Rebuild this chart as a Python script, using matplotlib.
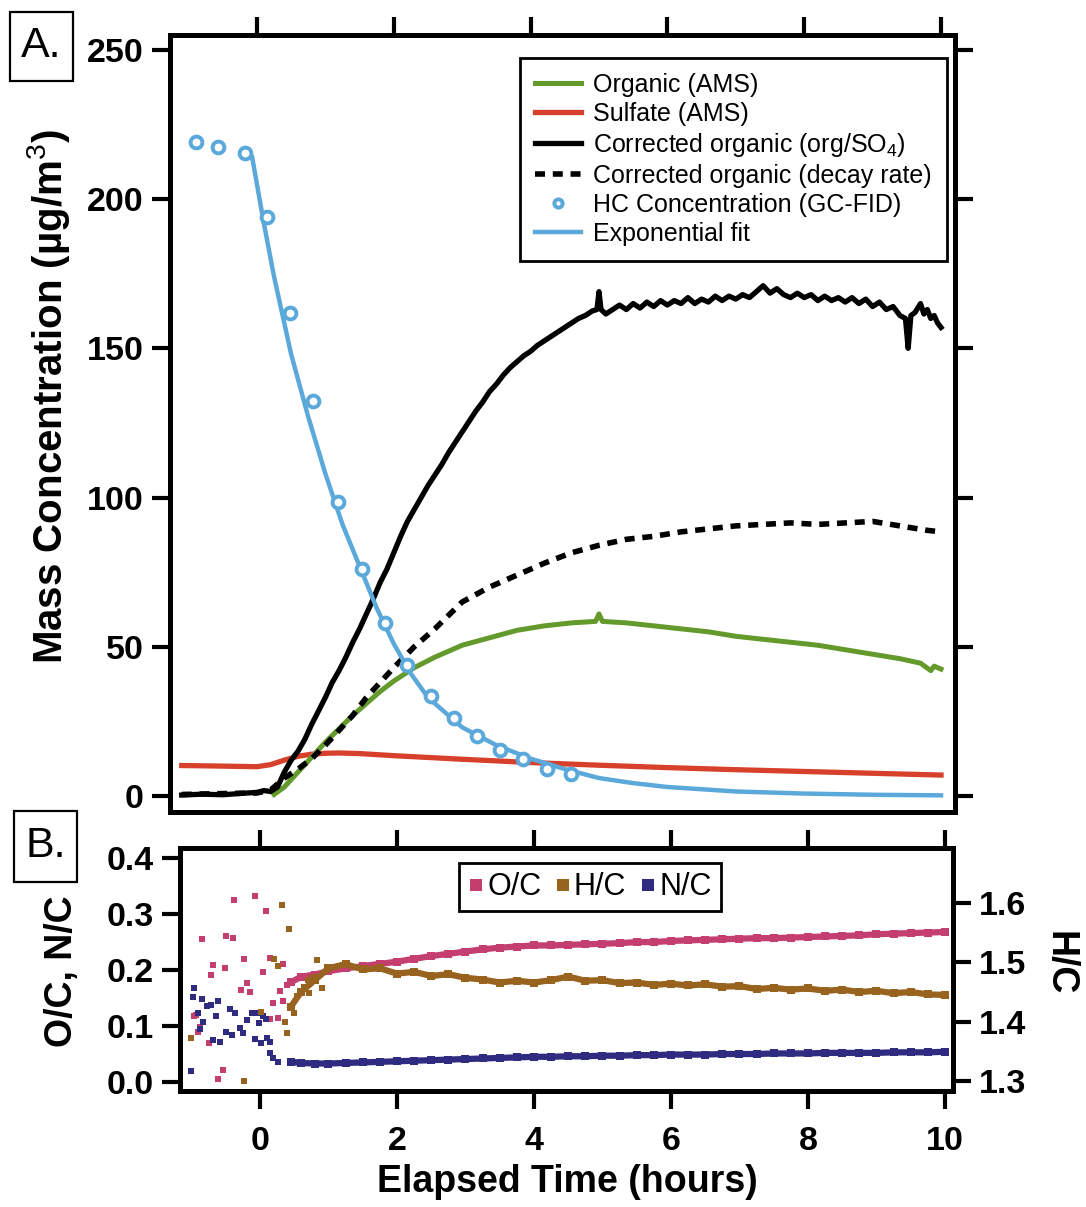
import matplotlib
matplotlib.use('Agg')
import matplotlib.pyplot as plt
from matplotlib.lines import Line2D
from matplotlib.patches import Rectangle

plt.rcParams['font.family'] = ['Liberation Sans', 'DejaVu Sans']
plt.rcParams['mathtext.fontset'] = 'custom'
plt.rcParams['mathtext.rm'] = 'Liberation Sans'
plt.rcParams['mathtext.it'] = 'Liberation Sans:italic'
plt.rcParams['mathtext.bf'] = 'Liberation Sans:bold'

# ---------------- Panel A data ----------------
t_corr = [-1.1, -0.8, -0.5, -0.2, 0.0, 0.1, 0.2, 0.3, 0.4, 0.5, 0.6, 0.7, 0.8, 0.9,
          1.0, 1.1, 1.2, 1.3, 1.4, 1.5, 1.6, 1.7, 1.8, 1.9, 2.0, 2.1, 2.2, 2.3, 2.4,
          2.5, 2.6, 2.7, 2.8, 2.9, 3.0, 3.1, 3.2, 3.3, 3.4, 3.5, 3.6, 3.7, 3.8, 3.9,
          4.0, 4.1, 4.2, 4.3, 4.4, 4.5, 4.6, 4.7, 4.8, 4.9, 4.97, 5.0, 5.03, 5.1, 5.2,
          5.3, 5.4, 5.5, 5.6, 5.7, 5.8, 5.9, 6.0, 6.1, 6.2, 6.3, 6.4, 6.5, 6.6, 6.7,
          6.8, 6.9, 7.0, 7.1, 7.2, 7.3, 7.4, 7.5, 7.6, 7.7, 7.8, 7.9, 8.0, 8.1, 8.2,
          8.3, 8.4, 8.5, 8.6, 8.7, 8.8, 8.9, 9.0, 9.1, 9.2, 9.3, 9.4, 9.48, 9.52, 9.56,
          9.62, 9.7, 9.75, 9.8, 9.85, 9.9, 9.95, 10.0]
corr_org = [0.3, 0.6, 0.4, 0.9, 1.2, 1.8, 1.5, 3, 8, 12, 15, 19, 24, 28.5,
            33, 38, 42, 46.5, 51.5, 56, 61, 66, 71.5, 76, 81.5, 87, 92, 96, 100,
            104, 107.5, 111, 115, 118.5, 122, 125.5, 129, 132, 135.5, 138, 141, 143.5, 145.5, 147.5,
            149, 151, 152.5, 154, 155.5, 157, 158.5, 160, 161, 162.5, 163, 169, 163, 161.5, 163,
            164.5, 163, 165, 163.5, 165.5, 164, 166, 164.5, 166, 165, 167, 165, 166.5, 165.5, 167.5,
            166, 167.5, 166.5, 168, 167, 169, 171, 168.5, 170, 168, 167, 168.5, 167, 168, 166,
            167.5, 166, 167, 165.5, 167, 165, 166.5, 164, 165.5, 163, 164, 161, 160, 150, 161,
            162, 165, 161.5, 163, 160, 161, 158.5, 157]

t_decay = [-1.1, -0.5, 0.0, 0.2, 0.4, 0.6, 0.8, 1.0, 1.2, 1.4, 1.6, 1.8, 2.0, 2.3, 2.6,
           3.0, 3.4, 3.8, 4.2, 4.6, 5.0, 5.4, 5.8, 6.2, 6.6, 7.0, 7.4, 7.8, 8.2, 8.6,
           9.0, 9.4, 9.8, 10.0]
corr_decay = [0.5, 0.8, 1, 2, 6, 9, 12.5, 17, 22, 27, 33, 38, 43, 50, 56,
              65, 70, 74, 78, 81.5, 84, 86, 87, 88.5, 89.5, 90.5, 91, 91.5, 91, 91.5,
              92, 90.5, 89, 88.5]

t_org = [0.25, 0.4, 0.6, 0.8, 1.0, 1.2, 1.4, 1.6, 1.8, 2.0, 2.3, 2.6, 3.0, 3.4, 3.8,
         4.2, 4.6, 4.95, 5.0, 5.05, 5.4, 5.8, 6.2, 6.6, 7.0, 7.4, 7.8, 8.2, 8.6, 9.0,
         9.4, 9.7, 9.85, 9.9, 10.0]
organic = [0.5, 3, 8, 13, 18, 22.5, 27, 31, 35, 38.5, 43, 46.5, 50.5, 53, 55.5,
           57, 58, 58.5, 61, 58.5, 58, 57, 56, 55, 53.5, 52.5, 51.5, 50.5, 49, 47.5,
           46, 44.5, 42, 43.5, 42.5]

t_sulf = [-1.1, -0.5, 0.0, 0.2, 0.4, 0.6, 0.8, 1.0, 1.2, 1.5, 2, 3, 4, 5, 6, 7, 8, 9, 10]
sulfate = [10.2, 10, 9.8, 10.5, 12, 13.3, 14, 14.3, 14.4, 14.2, 13.5, 12.3, 11.2,
           10.3, 9.5, 8.8, 8.2, 7.6, 7.0]

t_hc = [-0.89, -0.57, -0.18, 0.15, 0.48, 0.82, 1.18, 1.53, 1.87, 2.20, 2.54, 2.88,
        3.22, 3.55, 3.89, 4.24, 4.59]
hc_conc = [219, 217.5, 215.5, 194, 162, 132.5, 98.5, 76, 58, 44, 33.5, 26, 20, 15.5,
           12.4, 9.2, 7.4]

t_fit = [-0.07, 0.1, 0.25, 0.5, 0.75, 1.0, 1.25, 1.5, 1.75, 2.0, 2.25, 2.5, 3.0, 3.5,
         4.0, 4.5, 5.0, 5.5, 6.0, 7.0, 8.0, 9.0, 10.0]
hc_fit = [214, 192, 174, 148, 127, 108, 91, 77, 63, 51, 41, 33, 23, 17, 12.5, 9, 6,
          4.3, 3, 1.5, 0.8, 0.4, 0.2]

# ---------------- Panel B data ----------------
oc_t = [-0.97, -0.93, -0.90, -0.88, -0.85, -0.74, -0.71, -0.68, -0.61, -0.54, -0.51,
        -0.50, -0.40, -0.38, -0.27, -0.24, -0.19, -0.15, -0.07, 0.05, 0.09, 0.14,
        0.15, 0.19, 0.26, 0.29, 0.33, 0.34, 0.39]
oc_v = [0.118, 0.120, 0.090, 0.098, 0.255, 0.069, 0.192, 0.209, 0.005, 0.021, 0.203,
        0.261, 0.258, 0.325, 0.164, 0.219, 0.176, 0.161, 0.333, 0.196, 0.305, 0.113,
        0.221, 0.142, 0.114, 0.163, 0.145, 0.211, 0.173]

hc_t = [-1.01, -0.23, 0.02, 0.21, 0.26, 0.32, 0.36, 0.39, 0.42, 0.50, 0.54, 0.64,
        0.70, 0.72, 0.78, 0.83, 0.90]
hc_v = [1.373, 1.300, 1.416, 1.505, 1.494, 1.597, 1.400, 1.381, 1.556, 1.415, 1.443,
        1.459, 1.470, 1.448, 1.475, 1.504, 1.456]

nc_t = [-1.00, -0.98, -0.96, -0.90, -0.88, -0.85, -0.83, -0.78, -0.71, -0.68, -0.64,
        -0.61, -0.58, -0.49, -0.44, -0.41, -0.36, -0.29, -0.25, -0.19, -0.12, -0.07,
        -0.05, -0.02, 0.02, 0.05, 0.09, 0.11, 0.14, 0.15, 0.19, 0.27]
nc_v = [0.020, 0.152, 0.168, 0.123, 0.094, 0.148, 0.108, 0.135, 0.138, 0.075, 0.118,
        0.145, 0.072, 0.090, 0.131, 0.084, 0.123, 0.096, 0.087, 0.110, 0.123, 0.077,
        0.123, 0.106, 0.069, 0.118, 0.113, 0.078, 0.072, 0.051, 0.043, 0.035]

tb = [0.45, 0.6, 0.8, 1.0, 1.25, 1.5, 1.75, 2.0, 2.25, 2.5, 2.75, 3.0, 3.25, 3.5,
      3.75, 4.0, 4.25, 4.5, 4.75, 5.0, 5.25, 5.5, 5.75, 6.0, 6.25, 6.5, 6.75, 7.0,
      7.25, 7.5, 7.75, 8.0, 8.25, 8.5, 8.75, 9.0, 9.25, 9.5, 9.75, 10.0]
oc_band = [0.178, 0.188, 0.192, 0.198, 0.203, 0.207, 0.211, 0.215, 0.220, 0.225,
           0.229, 0.233, 0.237, 0.240, 0.242, 0.244, 0.244, 0.245, 0.246, 0.247,
           0.248, 0.250, 0.250, 0.252, 0.253, 0.254, 0.255, 0.256, 0.257, 0.257,
           0.258, 0.259, 0.260, 0.261, 0.262, 0.264, 0.265, 0.266, 0.267, 0.268]
hc_band = [1.425, 1.450, 1.470, 1.490, 1.497, 1.488, 1.490, 1.481, 1.484, 1.477,
           1.480, 1.474, 1.471, 1.466, 1.469, 1.466, 1.470, 1.476, 1.469, 1.470,
           1.465, 1.466, 1.462, 1.464, 1.461, 1.463, 1.459, 1.460, 1.455, 1.457,
           1.454, 1.456, 1.452, 1.454, 1.450, 1.452, 1.448, 1.450, 1.446, 1.445]
nc_band = [0.036, 0.034, 0.033, 0.033, 0.034, 0.035, 0.036, 0.037, 0.038, 0.039,
           0.040, 0.041, 0.042, 0.043, 0.044, 0.045, 0.045, 0.046, 0.046, 0.047,
           0.047, 0.048, 0.048, 0.049, 0.049, 0.049, 0.050, 0.050, 0.050, 0.051,
           0.051, 0.051, 0.052, 0.052, 0.052, 0.052, 0.053, 0.053, 0.053, 0.054]

x_ticks = [0, 2, 4, 6, 8, 10]
a_yticks = [0, 50, 100, 150, 200, 250]
b_yticks = [0.0, 0.1, 0.2, 0.3, 0.4]
b_yticklabels = ['0.0', '0.1', '0.2', '0.3', '0.4']
hc_ticks = [1.3, 1.4, 1.5, 1.6]
hc_ticklabels = ['1.3', '1.4', '1.5', '1.6']

# colours
C_GREEN = '#64992c'
C_RED = '#d7412c'
C_BLUE = '#5ba8da'
C_PINK = '#c43f70'
C_BROWN = '#98621f'
C_NAVY = '#2e2b80'

SPINE_W = 3.6
TICK_W = 3.0
TICK_L = 13
TICK_FS = 24.5
LAB_FS = 27

fig = plt.figure(figsize=(10.86, 12.07), dpi=100)
axA = fig.add_axes([0.1565, 0.3273, 0.7229, 0.6437])
axB = fig.add_axes([0.1657, 0.0961, 0.7118, 0.2013])

# ---------------- Panel A ----------------
axA.plot(t_sulf, sulfate, color=C_RED, lw=3.8, label='Sulfate (AMS)', zorder=2)
axA.plot(t_org, organic, color=C_GREEN, lw=3.6, label='Organic (AMS)', zorder=3)
axA.plot(t_decay, corr_decay, color='black', lw=4.0, linestyle=(0, (1.8, 1.4)),
         label='Corrected organic (decay rate)', zorder=4)
axA.plot(t_corr, corr_org, color='black', lw=3.8,
         label='Corrected organic (org/SO$_4$)', zorder=4)
axA.plot(t_fit, hc_fit, color=C_BLUE, lw=3.2, label='Exponential fit', zorder=5)
axA.plot(t_hc, hc_conc, linestyle='none', marker='o', ms=8.5, mew=2.8, mfc='white',
         mec=C_BLUE, label='HC Concentration (GC-FID)', zorder=6)

axA.set_xlim(-1.272, 10.205)
axA.set_ylim(-5.36, 255.0)
axA.set_xticks(x_ticks)
axA.set_yticks(a_yticks)
axA.tick_params(axis='both', which='both', direction='out', length=TICK_L, width=TICK_W,
                left=True, right=True, top=True, bottom=False,
                labelleft=True, labelright=False, labeltop=False, labelbottom=False,
                labelsize=TICK_FS, pad=6)
for lab in axA.get_yticklabels():
    lab.set_fontweight('bold')
for sp in axA.spines.values():
    sp.set_linewidth(SPINE_W)
axA.set_ylabel('Mass Concentration (µg/m$^3$)', fontsize=29, fontweight='bold')
axA.yaxis.set_label_coords(-0.125, 0.535)

h = {l.get_label(): l for l in axA.get_lines()}
order = ['Organic (AMS)', 'Sulfate (AMS)', 'Corrected organic (org/SO$_4$)',
         'Corrected organic (decay rate)', 'HC Concentration (GC-FID)', 'Exponential fit']
legA = axA.legend([h[k] for k in order], order, loc='upper right',
                  bbox_to_anchor=(0.9898, 0.9704), borderaxespad=0, fontsize=18,
                  frameon=True, fancybox=False, framealpha=1, edgecolor='black',
                  handlelength=1.85, handletextpad=0.5, labelspacing=0.2, borderpad=0.6,
                  markerscale=0.7)
legA.get_frame().set_linewidth(2.0)

# ---------------- Panel B ----------------
axB2 = axB.twinx()
axB.plot(tb, oc_band, color=C_PINK, lw=4.5, marker='s', ms=5.5, mew=0, zorder=3)
axB.plot(tb, nc_band, color=C_NAVY, lw=4.5, marker='s', ms=5.5, mew=0, zorder=3)
axB.plot(oc_t, oc_v, linestyle='none', marker='s', ms=4.6, mew=0, color=C_PINK, zorder=4)
axB.plot(nc_t, nc_v, linestyle='none', marker='s', ms=4.6, mew=0, color=C_NAVY, zorder=4)
axB2.plot(tb, hc_band, color=C_BROWN, lw=4.5, marker='s', ms=5.5, mew=0, zorder=3)
axB2.plot(hc_t, hc_v, linestyle='none', marker='s', ms=4.6, mew=0, color=C_BROWN, zorder=4)

axB.set_xlim(-1.168, 10.117)
axB.set_ylim(-0.0161, 0.418)
axB2.set_ylim(1.2831, 1.6927)
axB.set_xticks(x_ticks)
axB.set_xticklabels([str(v) for v in x_ticks])
axB.set_yticks(b_yticks)
axB.set_yticklabels(b_yticklabels)
axB2.set_yticks(hc_ticks)
axB2.set_yticklabels(hc_ticklabels)
axB.tick_params(axis='both', direction='out', length=TICK_L, width=TICK_W,
                left=True, right=False, top=True, bottom=True,
                labelleft=True, labelbottom=True, labeltop=False,
                labelsize=TICK_FS, pad=6)
axB.tick_params(axis='x', pad=12)
axB2.tick_params(axis='y', direction='out', length=TICK_L, width=TICK_W, right=True,
                 labelright=True, labelsize=TICK_FS, pad=6)
for lab in axB.get_xticklabels() + axB.get_yticklabels() + axB2.get_yticklabels():
    lab.set_fontweight('bold')
for ax in (axB, axB2):
    for sp in ax.spines.values():
        sp.set_linewidth(SPINE_W)

axB.set_xlabel('Elapsed Time (hours)', fontsize=LAB_FS, fontweight='bold')
axB.xaxis.set_label_coords(0.5006, -0.30)
axB.set_ylabel('O/C, N/C', fontsize=LAB_FS, fontweight='bold')
axB.yaxis.set_label_coords(-0.129, 0.494)
axB2.set_ylabel('H/C', fontsize=LAB_FS, fontweight='bold', rotation=270,
                va='center', ha='center')
axB2.yaxis.set_label_coords(1.138, 0.527)

legB_handles = [Line2D([], [], ls='none', marker='s', ms=9, mew=0, color=C_PINK),
                Line2D([], [], ls='none', marker='s', ms=9, mew=0, color=C_BROWN),
                Line2D([], [], ls='none', marker='s', ms=9, mew=0, color=C_NAVY)]
legB = axB2.legend(legB_handles, ['O/C', 'H/C', 'N/C'], ncol=3, loc='upper left',
                   bbox_to_anchor=(0.361, 0.938), borderaxespad=0, fontsize=22,
                   frameon=True, fancybox=False, framealpha=1, edgecolor='black',
                   handlelength=0.5, handletextpad=0.12, columnspacing=0.45,
                   borderpad=0.3)
legB.get_frame().set_linewidth(2.0)

# ---------------- Panel labels ----------------
fig.add_artist(Rectangle((0.0092, 0.9329), 0.058, 0.0572, transform=fig.transFigure,
                         fill=False, ec='black', lw=1.6))
fig.text(0.0382, 0.9615, 'A.', fontsize=31, ha='center', va='center')
fig.add_artist(Rectangle((0.0129, 0.2693), 0.058, 0.0588, transform=fig.transFigure,
                         fill=False, ec='black', lw=1.6))
fig.text(0.0419, 0.2987, 'B.', fontsize=31, ha='center', va='center')

fig.savefig('out.png', dpi=100)
